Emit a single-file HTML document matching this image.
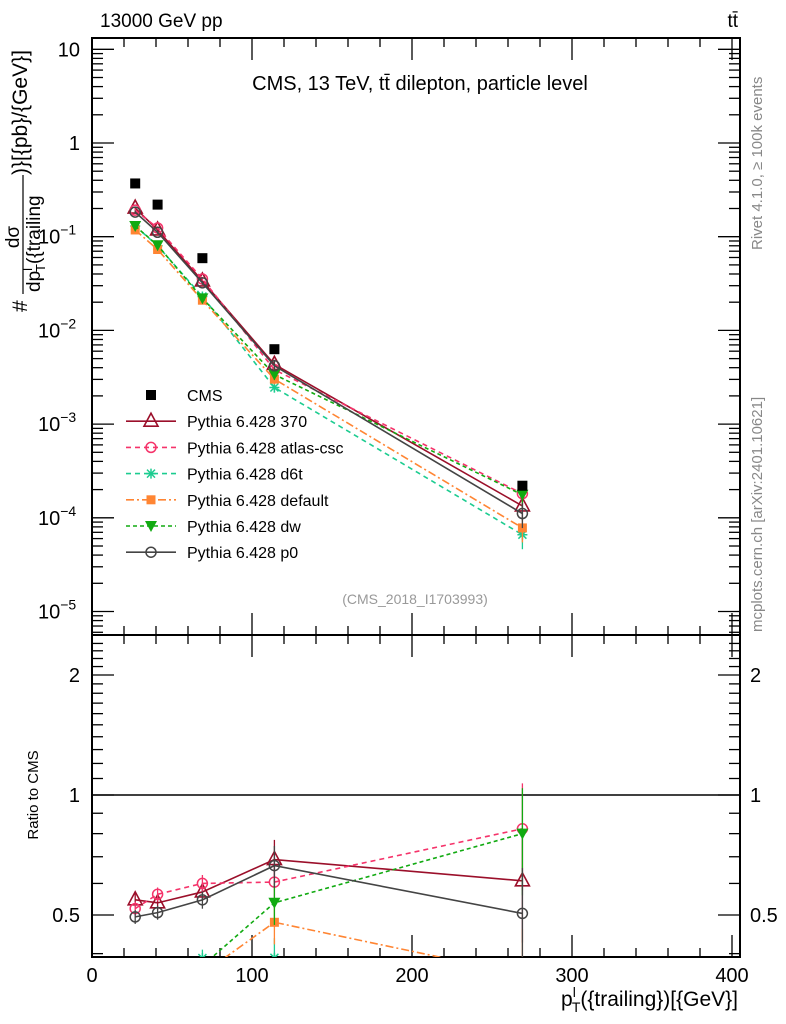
<!DOCTYPE html>
<html><head><meta charset="utf-8"><style>
html,body{margin:0;background:#fff;width:786px;height:1024px;overflow:hidden;}
svg{display:block;font-family:"Liberation Sans",sans-serif;}
</style></head><body>
<svg id="c" width="786" height="1024" viewBox="0 0 786 1024" xmlns="http://www.w3.org/2000/svg">
<rect x="0" y="0" width="786" height="1024" fill="#fff"/>
<text x="100" y="27" font-size="19">13000 GeV pp</text>
<text x="738" y="27" font-size="19" text-anchor="end">tt̄</text>
<text x="420" y="90" font-size="20" text-anchor="middle">CMS, 13 TeV, tt̄ dilepton, particle level</text>
<text x="415" y="604" font-size="14" fill="#999" text-anchor="middle">(CMS_2018_I1703993)</text>
<text transform="translate(762,250) rotate(-90)" font-size="15" fill="#888">Rivet 4.1.0, ≥ 100k events</text>
<text transform="translate(762,632) rotate(-90)" font-size="15" fill="#888">mcplots.cern.ch [arXiv:2401.10621]</text>
<g transform="translate(0,312) rotate(-90)" font-size="19">
<text x="0" y="27" font-size="21">#</text>
<text x="75" y="19" text-anchor="middle">dσ</text>
<line x1="18" y1="23" x2="137" y2="23" stroke="#000" stroke-width="1.2"/>
<text x="20" y="40">dp<tspan font-size="13" dy="-8">l</tspan><tspan font-size="13" dx="-4" dy="13">T</tspan><tspan dy="-5">({trailing</tspan></text>
<text x="137" y="27" font-size="21">)}[{pb}/{GeV}]</text>
</g>
<text transform="translate(38,795) rotate(-90)" font-size="15" text-anchor="middle">Ratio to CMS</text>
<text x="738" y="1006" font-size="21" text-anchor="end">p<tspan font-size="14" dy="-9">l</tspan><tspan font-size="14" dx="-4" dy="15">T</tspan><tspan dy="-6">({trailing})[{GeV}]</tspan></text>
<g id="main"></g>
<g id="ratio"></g>
</svg>
<script>
const xCenters=[27,41,69,114,269];
const cmsValues=[0.37,0.22,0.059,0.0063,0.00022];
const v370=[0.202,0.118,0.0337,0.00434,0.000134];
const vAtlas=[0.192,0.124,0.0354,0.00381,0.000181];
const vD6t=[0.13,0.08,0.023,0.00246,0.000066];
const vDefault=[0.118,0.073,0.021,0.00302,0.000078];
const vDw=[0.13,0.081,0.022,0.00338,0.000176];
const vP0=[0.183,0.1115,0.0322,0.00419,0.000111];
const mcErrRel=[0.04,0.04,0.05,0.12,0.3];
const xTicks=[0,100,200,300,400];
const yTickExp=[1,0,-1,-2,-3,-4,-5];
const ratioTicks=[0.5,1,2];
const legendLabels=["CMS","Pythia 6.428 370","Pythia 6.428 atlas-csc","Pythia 6.428 d6t","Pythia 6.428 default","Pythia 6.428 dw","Pythia 6.428 p0"];

const NS="http://www.w3.org/2000/svg";
const L=92,R=740,T=38,MB=635,RB=957;
const sx=v=>L+v*1.6;
const sy=v=>143-Math.log10(v)*93.7;
const sr=v=>795-Math.log2(v)*120;
function mk(p,tag,at){const e=document.createElementNS(NS,tag);for(const k in at)e.setAttribute(k,at[k]);p.appendChild(e);return e;}
const main=document.getElementById('main'),ratio=document.getElementById('ratio');
let f=mk(main,'rect',{x:L,y:T,width:R-L,height:MB-T,fill:'none',stroke:'#000','stroke-width':2});


f=mk(ratio,'rect',{x:L,y:MB,width:R-L,height:RB-MB,fill:'none',stroke:'#000','stroke-width':2});


for(let v=0;v<=405;v+=20){
  const big=v%100===0,len=big?22:9,x=sx(v);
  for(const [y0,d] of [[MB,-1],[MB,1],[RB,-1],[T,1]]){mk(main,'line',{x1:x,x2:x,y1:y0,y2:y0+d*len,stroke:'#000','stroke-width':1.3});}
}
xTicks.forEach(v=>{const t=mk(ratio,'text',{x:sx(v),y:982,'font-size':20,'text-anchor':'middle'});t.textContent=v;

});
yTickExp.forEach(e=>{
  const y=sy(Math.pow(10,e));
  for(const [x0,d] of [[L,1],[R,-1]]) mk(main,'line',{x1:x0,x2:x0+d*22,y1:y,y2:y,stroke:'#000','stroke-width':1.3});
  for(let m=2;m<10;m++){const yy=sy(m*Math.pow(10,e-1));if(yy>T&&yy<MB)for(const [x0,d] of [[L,1],[R,-1]])mk(main,'line',{x1:x0,x2:x0+d*11,y1:yy,y2:yy,stroke:'#000','stroke-width':1.3});}
  const t=mk(main,'text',{x:e<0?70:80,y:y+7,'font-size':20,'text-anchor':'end'});
  
  
  if(e===1)t.textContent='10';else if(e===0)t.textContent='1';
  else{t.textContent='10';const s=mk(t,'tspan',{'font-size':14,dy:-9});s.textContent='−'+(-e);t.setAttribute('text-anchor','start');t.setAttribute('x',38);}
});
for(let v=0.4;v<=2.5;v+=0.1){const y=sr(v);if(y<MB||y>RB)continue;
  const big=[0.5,1,2].some(a=>Math.abs(a-v)<1e-6);for(const [x0,d] of [[L,1],[R,-1]])mk(ratio,'line',{x1:x0,x2:x0+d*(big?22:11),y1:y,y2:y,stroke:'#000','stroke-width':1.3});}
ratioTicks.forEach(v=>{const y=sr(v);
  let t=mk(ratio,'text',{x:80,y:y+7,'font-size':20,'text-anchor':'end'});t.textContent=v;
  
  
  t=mk(ratio,'text',{x:750,y:y+7,'font-size':20});t.textContent=v;
  
  });
mk(ratio,'line',{x1:L,x2:R,y1:sr(1),y2:sr(1),stroke:'#000','stroke-width':1.5});
const defs=mk(document.getElementById('c'),'defs',{});
const cp=mk(defs,'clipPath',{id:'rc'});mk(cp,'rect',{x:L,y:MB,width:R-L,height:RB-MB});
const rg=mk(ratio,'g',{'clip-path':'url(#rc)'});
function marker(g,type,x,y,col){
  const r=5;
  if(type==='sq')return mk(g,'rect',{x:x-r,y:y-r,width:2*r,height:2*r,fill:col});
  if(type==='tri')return mk(g,'path',{d:`M${x},${y-8}L${x+7},${y+5}L${x-7},${y+5}Z`,fill:'none',stroke:col,'stroke-width':1.6});
  if(type==='circ')return mk(g,'circle',{cx:x,cy:y,r:5,fill:'none',stroke:col,'stroke-width':1.5});
  if(type==='star')return mk(g,'path',{d:`M${x-5},${y}H${x+5}M${x},${y-5}V${y+5}M${x-4},${y-4}L${x+4},${y+4}M${x-4},${y+4}L${x+4},${y-4}`,stroke:col,'stroke-width':1.5});
  if(type==='dtri')return mk(g,'path',{d:`M${x-6},${y-5}L${x+6},${y-5}L${x},${y+6}Z`,fill:col});
  if(type==='fsq')return mk(g,'rect',{x:x-4.5,y:y-4.5,width:9,height:9,fill:col});
}
const series=[
 {name:'pythia-370',vals:v370,col:'#9b0f2a',dash:'',m:'tri'},
 {name:'pythia-atlas-csc',vals:vAtlas,col:'#f5336a',dash:'5,4',m:'circ'},
 {name:'pythia-d6t',vals:vD6t,col:'#1ccc90',dash:'5,4',m:'star'},
 {name:'pythia-default',vals:vDefault,col:'#ff8533',dash:'8,3,2,3',m:'fsq'},
 {name:'pythia-dw',vals:vDw,col:'#11aa11',dash:'4,3',m:'dtri'},
 {name:'pythia-p0',vals:vP0,col:'#444444',dash:'',m:'circ'}];
series.forEach(s=>{
  const g=mk(main,'g',{});
  const gr=mk(rg,'g',{});
  mk(g,'polyline',{points:xCenters.map((x,i)=>sx(x)+','+sy(s.vals[i])).join(' '),fill:'none',stroke:s.col,'stroke-width':1.6,'stroke-dasharray':s.dash});
  mk(gr,'polyline',{points:xCenters.map((x,i)=>sx(x)+','+sr(s.vals[i]/cmsValues[i])).join(' '),fill:'none',stroke:s.col,'stroke-width':1.6,'stroke-dasharray':s.dash});
  xCenters.forEach((x,i)=>{
    const v=s.vals[i],e=mcErrRel[i],rv=v/cmsValues[i];
    mk(g,'line',{x1:sx(x),x2:sx(x),y1:sy(v*(1+e)),y2:sy(v*(1-e)),stroke:s.col,'stroke-width':1.3});
    let m=marker(g,s.m,sx(x),sy(v),s.col);
    
    mk(gr,'line',{x1:sx(x),x2:sx(x),y1:sr(rv*(1+e)),y2:sr(Math.max(rv*(1-e),0.01)),stroke:s.col,'stroke-width':1.3});
    m=marker(gr,s.m,sx(x),sr(rv),s.col);
    
  });
});
const cg=mk(main,'g',{});
xCenters.forEach((x,i)=>{const m=marker(cg,'sq',sx(x),sy(cmsValues[i]),'#000');
  });
const lg=mk(main,'g',{});
legendLabels.forEach((lab,i)=>{
  const y=395+i*26.2;
  const e=mk(lg,'g',{});
  if(i===0)marker(e,'sq',151,y,'#000');
  else{const s=series[i-1];mk(e,'line',{x1:126,x2:176,y1:y,y2:y,stroke:s.col,'stroke-width':1.6,'stroke-dasharray':s.dash});marker(e,s.m,151,y,s.col);}
  const t=mk(e,'text',{x:187,y:y+6,'font-size':16});t.textContent=lab;
});
</script>
</body></html>
